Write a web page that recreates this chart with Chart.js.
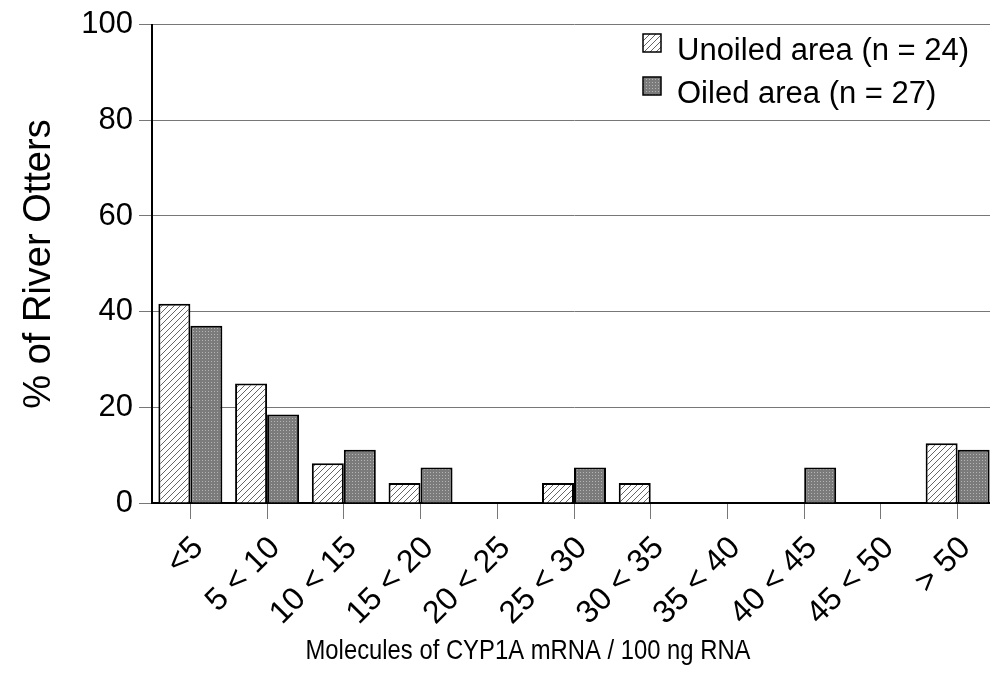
<!DOCTYPE html>
<html>
<head>
<meta charset="utf-8">
<script src="https://cdn.jsdelivr.net/npm/chart.js@4"></script>
<style>
  html, body { margin: 0; padding: 0; background: #fff; overflow: hidden; }
  #wrap { width: 990px; height: 695px; overflow: hidden; }
</style>
</head>
<body>
<div id="wrap"><canvas id="otters" width="1000" height="695"></canvas></div>
<script>
const categories = ['<5', '5 < 10', '10 < 15', '15 < 20', '20 < 25', '25 < 30',
  '30 < 35', '35 < 40', '40 < 45', '45 < 50', '> 50'];
// percent of animals per class
const unoiled = [41.67, 25.0, 8.33, 4.17, 0, 4.17, 4.17, 0, 0, 0, 12.5];
const oiled   = [37.04, 18.52, 11.11, 7.41, 0, 7.41, 0, 0, 7.41, 0, 11.11];
const yTicks = [0, 20, 40, 60, 80, 100];

const FONT = 'Liberation Sans, Arial, sans-serif';

function hatchPattern() {
  const c = document.createElement('canvas');
  c.width = c.height = 6;
  const g = c.getContext('2d');
  g.fillStyle = '#fff';
  g.fillRect(0, 0, 6, 6);
  g.strokeStyle = '#555';
  g.lineWidth = 0.9;
  g.beginPath();
  g.moveTo(0, 6); g.lineTo(6, 0);
  g.moveTo(-1, 1); g.lineTo(1, -1);
  g.moveTo(5, 7); g.lineTo(7, 5);
  g.stroke();
  return g.createPattern(c, 'repeat');
}

function stipplePattern() {
  const c = document.createElement('canvas');
  c.width = c.height = 3;
  const g = c.getContext('2d');
  g.fillStyle = '#7b7b7b';
  g.fillRect(0, 0, 3, 3);
  g.fillStyle = '#b4b4b4';
  g.fillRect(1, 1, 1, 1);
  return g.createPattern(c, 'repeat');
}

const hatch = hatchPattern();
const stipple = stipplePattern();

// slanted category labels, axis titles and boxed legend
const decorations = {
  id: 'decorations',
  afterDraw(chart) {
    const ctx = chart.ctx;
    const xs = chart.scales.x;
    ctx.save();
    ctx.fillStyle = '#000';
    ctx.textBaseline = 'middle';

    ctx.font = '32px ' + FONT;
    ctx.textAlign = 'right';
    chart.data.labels.forEach((lab, i) => {
      ctx.save();
      ctx.translate(xs.getPixelForTick(i) + 8, xs.top + 40);
      ctx.rotate(-Math.PI / 4);
      ctx.fillText(lab, 0, 0);
      ctx.restore();
    });

    // x title: narrow face, squeezed to 445px
    const xTitle = 'Molecules of CYP1A mRNA / 100 ng RNA';
    ctx.save();
    ctx.font = '28px ' + FONT;
    ctx.textAlign = 'center';
    const k = 445 / ctx.measureText(xTitle).width;
    ctx.translate(528, 651);
    ctx.scale(k, 1);
    ctx.fillText(xTitle, 0, 0);
    ctx.restore();

    ctx.save();
    ctx.translate(40, 264);
    ctx.rotate(-Math.PI / 2);
    ctx.textAlign = 'center';
    ctx.font = '38px ' + FONT;
    ctx.fillText('% of River Otters', 0, 0);
    ctx.restore();

    ctx.textAlign = 'left';
    ctx.font = '31px ' + FONT;
    chart.data.datasets.forEach((ds, i) => {
      const y = 34 + i * 43;
      ctx.fillStyle = ds.backgroundColor;
      ctx.fillRect(643, y, 18, 18);
      ctx.strokeStyle = '#000';
      ctx.lineWidth = 1.5;
      ctx.strokeRect(643, y, 18, 18);
      ctx.fillStyle = '#000';
      ctx.fillText(ds.label, 677, y + 17);
    });
    ctx.restore();
  }
};

new Chart(document.getElementById('otters'), {
  type: 'bar',
  data: {
    labels: categories,
    datasets: [
      { label: 'Unoiled area (n = 24)', data: unoiled, backgroundColor: hatch,
        borderColor: '#000', borderWidth: 2 },
      { label: 'Oiled area (n = 27)', data: oiled, backgroundColor: stipple,
        borderColor: '#000', borderWidth: 2 }
    ]
  },
  options: {
    responsive: false,
    animation: false,
    layout: { padding: { top: 24, right: 4, bottom: 0, left: 0 } },
    datasets: { bar: { categoryPercentage: 0.834, barPercentage: 1.0 } },
    plugins: { legend: { display: false }, tooltip: { enabled: false } },
    scales: {
      x: {
        afterFit(s) { s.height = 192; },
        grid: { offset: false, drawOnChartArea: false, color: '#777', tickLength: 16, lineWidth: 1 },
        border: { color: '#000', width: 2 },
        ticks: { display: false, autoSkip: false }
      },
      y: {
        min: 0, max: 100,
        afterFit(s) { s.width = 152; },
        afterBuildTicks(s) { s.ticks = yTicks.map(v => ({ value: v })); },
        grid: { color: '#777', tickLength: 13, lineWidth: 1 },
        border: { color: '#000', width: 2 },
        ticks: { padding: 6, color: '#000', font: { family: FONT, size: 31 } }
      }
    }
  },
  plugins: [decorations]
});
</script>
</body>
</html>
